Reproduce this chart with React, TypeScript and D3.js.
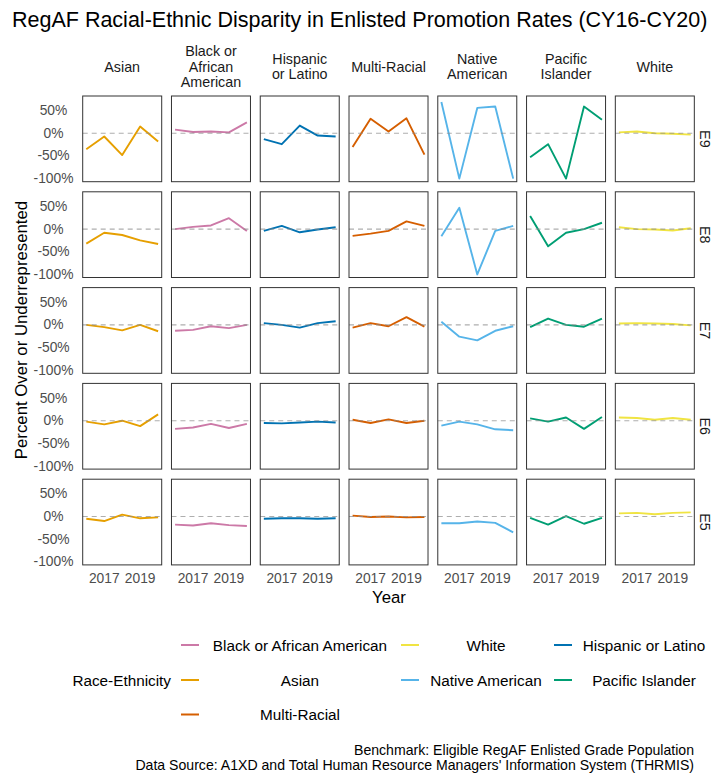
import React from "react";
import * as d3 from "d3";

const years = [2016, 2017, 2018, 2019, 2020];
const xTickYears = [2017, 2019];
const grades = ["E9", "E8", "E7", "E6", "E5"];
const races = ["Asian", "Black or African American", "Hispanic or Latino", "Multi-Racial", "Native American", "Pacific Islander", "White"];
const raceHeaders = [["Asian"], ["Black or", "African", "American"], ["Hispanic", "or Latino"], ["Multi-Racial"], ["Native", "American"], ["Pacific", "Islander"], ["White"]];
const raceColors = ["#E69F00", "#CC79A7", "#0072B2", "#D55E00", "#56B4E9", "#009E73", "#F0E442"];
const yTicks = [50, 0, -50, -100];

// rows: E9, E8, E7, E6, E5 ; columns: 2016..2020
const asian = [[-35, -7, -48, 15, -18], [-32, -8, -13, -25, -33], [0, -5, -12, 0, -14], [-2, -8, 0, -12, 14], [-5, -10, 4, -4, -2]];
const black = [[8, 3, 4, 2, 24], [0, 5, 8, 24, -4], [-13, -11, -3, -7, 0], [-18, -15, -7, -16, -7], [-18, -20, -15, -19, -21]];
const hispanic = [[-13, -24, 17, -5, -7], [-4, 7, -7, -1, 4], [4, 0, -6, 4, 8], [-5, -6, -4, -2, -4], [-5, -4, -4, -5, -4]];
const multiRacial = [[-30, 32, 4, 33, -47], [-15, -10, -4, 17, 7], [-6, 4, -3, 17, -4], [2, -5, 3, -5, 0], [2, -1, 0, -2, -1]];
const nativeAmerican = [[69, -100, 56, 59, -100], [-16, 47, -100, -4, 7], [7, -26, -34, -13, -3], [-11, -2, -8, -19, -21], [-15, -15, -11, -14, -35]];
const pacificIslander = [[-53, -24, -100, 59, 30], [29, -38, -8, 0, 14], [-5, 14, 0, -4, 14], [5, -2, 7, -18, 8], [-3, -18, 1, -16, -3]];
const white = [[2, 4, 0, -1, -3], [4, 0, -1, -3, 2], [3, 4, 3, 2, -1], [7, 6, 2, 6, 2], [7, 8, 5, 8, 9]];
const seriesByRace = [asian, black, hispanic, multiRacial, nativeAmerican, pacificIslander, white];

// legend entries and their (column, row) slots
const legendOrder = ["Black or African American", "Asian", "Multi-Racial", "White", "Native American", "Hispanic or Latino", "Pacific Islander"];
const legendSlots = [[0, 0], [0, 1], [0, 2], [1, 0], [1, 1], [2, 0], [2, 1]];

const W = 717, H = 776;
const FONT = "'Liberation Sans', Arial, sans-serif";
const panelLeft = 82.7, panelPitchX = 88.77, panelW = 79;
const panelTop = 96, panelPitchY = 95.8, panelH = 85.7;

export default function App() {
  const x = d3.scaleLinear().domain([2015.8, 2020.2]).range([0, panelW]);
  const y = d3.scaleLinear().domain([-106.8, 82.3]).range([panelH, 0]);
  const line = d3.line<number>().x((_, i) => x(years[i])).y((v) => y(v));

  const legendCols = [
    { keyX: 181, center: 300 },
    { keyX: 401, center: 486 },
    { keyX: 554, center: 644 },
  ];
  const legendRowsY = [645, 680, 714.5];

  return (
    <div style={{ position: "absolute", left: 0, top: 0 }}>
      <svg width={W} height={H} style={{ display: "block", background: "#fff" }} fontFamily={FONT}>
        <text x={12} y={20} fontSize={21.5} dominantBaseline="central" fill="#000">
          RegAF Racial-Ethnic Disparity in Enlisted Promotion Rates (CY16-CY20)
        </text>
        {raceHeaders.map((lines, c) => {
          const cx = panelLeft + c * panelPitchX + panelW / 2;
          const lh = 15.3;
          const cy = 66.7;
          return (
            <text key={"h" + c} fontSize={14.3} fill="#1a1a1a" textAnchor="middle">
              {lines.map((t, k) => (
                <tspan key={k} x={cx} y={cy + (k - (lines.length - 1) / 2) * lh} dominantBaseline="central">{t}</tspan>
              ))}
            </text>
          );
        })}
        {grades.map((g, r) => {
          const top = panelTop + r * panelPitchY;
          return (
            <g key={g}>
              {yTicks.map((t) => (
                <text key={t} x={53.5} y={top + y(t)} fontSize={13.8} fill="#4d4d4d" textAnchor="middle" dominantBaseline="central">
                  {t + "%"}
                </text>
              ))}
              <text transform={`translate(705,${top + panelH / 2}) rotate(90)`} fontSize={14.3} fill="#1a1a1a" textAnchor="middle" dominantBaseline="central">
                {g}
              </text>
              {races.map((race, c) => {
                const left = panelLeft + c * panelPitchX;
                const vals = seriesByRace[c][r];
                return (
                  <g key={race} transform={`translate(${left},${top})`}>
                    <path d={line(vals) || ""} fill="none" stroke={raceColors[c]} strokeWidth={1.9} strokeLinejoin="round" />
                    <line x1={0} x2={panelW} y1={y(0)} y2={y(0)} stroke="#8c8c8c" strokeOpacity={0.7} strokeWidth={1.1} strokeDasharray="5,4" />
                    <rect x={0} y={0} width={panelW} height={panelH} fill="none" stroke="#333" strokeWidth={1} />
                  </g>
                );
              })}
            </g>
          );
        })}
        {races.map((race, c) => {
          const left = panelLeft + c * panelPitchX;
          return xTickYears.map((yr) => (
            <text key={race + yr} x={left + x(yr)} y={578.3} fontSize={13.8} fill="#4d4d4d" textAnchor="middle" dominantBaseline="central">
              {yr}
            </text>
          ));
        })}
        <text x={389} y={597} fontSize={16.8} fill="#000" textAnchor="middle" dominantBaseline="central">Year</text>
        <text transform={`translate(21,330) rotate(-90)`} fontSize={16.8} fill="#000" textAnchor="middle" dominantBaseline="central">
          Percent Over or Underrepresented
        </text>
        <text x={171} y={legendRowsY[1]} fontSize={15.3} fill="#000" textAnchor="end" dominantBaseline="central">Race-Ethnicity</text>
        {legendOrder.map((name, i) => {
          const [col, row] = legendSlots[i];
          const ci = races.indexOf(name);
          const lc = legendCols[col];
          const ly = legendRowsY[row];
          return (
            <g key={name}>
              <line x1={lc.keyX} x2={lc.keyX + 18} y1={ly} y2={ly} stroke={raceColors[ci]} strokeWidth={2} />
              <text x={lc.center} y={ly} fontSize={15.3} fill="#000" textAnchor="middle" dominantBaseline="central">{name}</text>
            </g>
          );
        })}
        <text x={694} y={750} fontSize={14.1} fill="#000" textAnchor="end" dominantBaseline="central">
          Benchmark: Eligible RegAF Enlisted Grade Population
        </text>
        <text x={694} y={764.5} fontSize={14.1} fill="#000" textAnchor="end" dominantBaseline="central">
          Data Source: A1XD and Total Human Resource Managers' Information System (THRMIS)
        </text>
      </svg>
    </div>
  );
}
